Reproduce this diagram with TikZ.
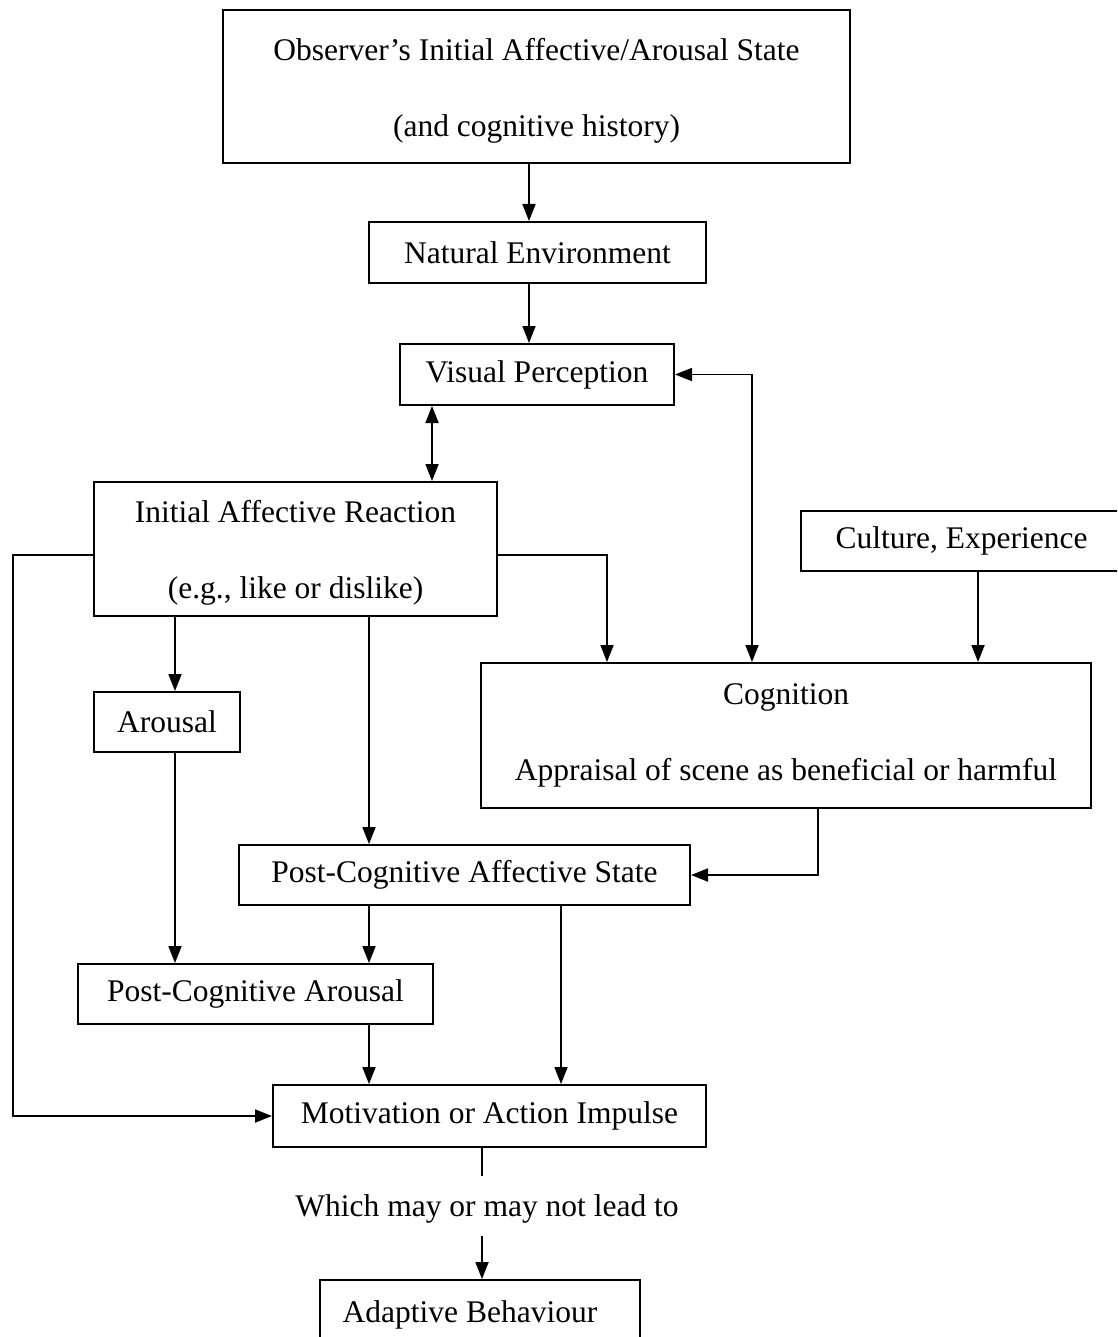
\documentclass[tikz,border=0pt]{standalone}
\usepackage{fontspec}
\setmainfont{Liberation Serif}
\usetikzlibrary{arrows.meta,calc}
\begin{document}
\begin{tikzpicture}[x=1pt,y=-1pt,
  box/.style={draw,line width=2pt,rectangle,inner sep=0pt,align=center,
    font=\fontsize{31.5}{76}\selectfont},
  arr/.style={line width=1.8pt,-{Triangle[length=17pt,width=13pt]}},
  arrb/.style={line width=1.8pt,{Triangle[length=17pt,width=13pt]}-{Triangle[length=17pt,width=13pt]}},
  ln/.style={line width=1.8pt}]
\useasboundingbox (0,0) rectangle (1117,1337);
\clip (0,0) rectangle (1117,1337);
\fill[white] (0,0) rectangle (1117,1337);

\node[box,minimum width=627,minimum height=153] (top) at (536.5,86.5)
  {\rule{0pt}{30pt}Observer’s Initial Affective/Arousal State\\(and cognitive history)};
\node[box,minimum width=337,minimum height=61] (ne) at (537.5,252.5) {Natural Environment};
\node[box,minimum width=274,minimum height=61] (vp) at (537,374.5) {Visual Perception};
\node[box,minimum width=403,minimum height=134] (iar) at (295.5,549)
  {\rule{0pt}{30pt}Initial Affective Reaction\\(e.g., like or dislike)};
\node[box,minimum width=321,minimum height=60] (cul) at (961.5,541) {Culture, Experience};
\node[box,minimum width=610,minimum height=145] (cog) at (786,735.5)
  {Cognition\\Appraisal of scene as beneficial or harmful};
\node[box,minimum width=146,minimum height=60] (aro) at (167,722) {Arousal};
\node[box,minimum width=451,minimum height=60] (pcas) at (464.5,875) {Post-Cognitive Affective State};
\node[box,minimum width=355,minimum height=60] (pca) at (255.5,994) {Post-Cognitive Arousal};
\node[box,minimum width=433,minimum height=62] (mot) at (489.5,1116) {Motivation or Action Impulse};
\node[font=\fontsize{31.5}{38}\selectfont,inner sep=0pt] (wm) at (487,1209) {Which may or may not lead to};
\node[box,minimum width=320,minimum height=70] (ab) at (480,1315) {\kern-20pt Adaptive Behaviour};

\draw[arr] (top.south -| 529,0) -- (ne.north -| 529,0);
\draw[arr] (ne.south -| 529,0) -- (vp.north -| 529,0);
\draw[arrb] (vp.south -| 432,0) -- (iar.north -| 432,0);
\draw[arr] (iar.east |- 0,555) -| (cog.north -| 607,0);
\draw[arrb] (vp.east) -| (cog.north -| 752,0);
\draw[arr] (cul.south -| 978,0) -- (cog.north -| 978,0);
\draw[arr] (iar.south -| 175,0) -- (aro.north -| 175,0);
\draw[arr] (iar.south -| 369,0) -- (pcas.north -| 369,0);
\draw[arr] (cog.south -| 818,0) |- (pcas.east);
\draw[arr] (aro.south -| 175,0) -- (pca.north -| 175,0);
\draw[arr] (pcas.south -| 369,0) -- (pca.north -| 369,0);
\draw[arr] (pca.south -| 369,0) -- (mot.north -| 369,0);
\draw[arr] (pcas.south -| 561,0) -- (mot.north -| 561,0);
\draw[arr] (iar.west |- 0,555) -- ++(-80,0) |- (mot.west);
\draw[ln] (mot.south -| 482,0) -- ++(0,28);
\draw[arr] ($(ab.north -| 482,0)+(0,-43)$) -- (ab.north -| 482,0);
\end{tikzpicture}
\end{document}
